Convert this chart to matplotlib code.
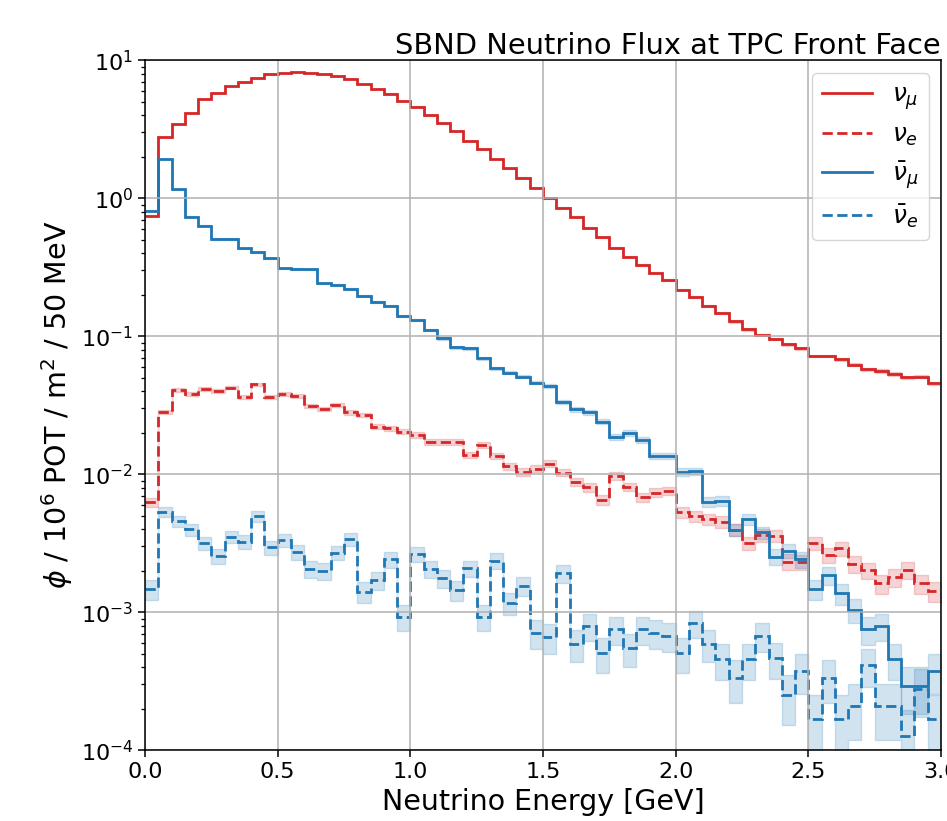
import numpy as np
import matplotlib
matplotlib.use("Agg")
import matplotlib.pyplot as plt

# 60 bins of 50 MeV from 0 to 3 GeV
bin_edges = np.linspace(0.0, 3.0, 61)

# flux per bin
numu = [0.75, 2.77, 3.45, 4.13, 5.25, 5.82, 6.51, 6.92, 7.48, 7.92,
        8.09, 8.23, 8.13, 7.96, 7.70, 7.28, 6.77, 6.19, 5.73, 5.09,
        4.61, 3.99, 3.49, 3.07, 2.60, 2.26, 1.92, 1.65, 1.41, 1.19,
        1.00, 0.855, 0.736, 0.612, 0.521, 0.438, 0.377, 0.329, 0.289, 0.256,
        0.218, 0.192, 0.166, 0.147, 0.128, 0.112, 0.102, 0.0955, 0.0874, 0.0818,
        0.072, 0.072, 0.068, 0.062, 0.0576, 0.0561, 0.0534, 0.0505, 0.051, 0.0456]
nue = [0.00627, 0.0284, 0.0408, 0.0382, 0.0413, 0.0402, 0.0425, 0.0365, 0.0449, 0.0365,
       0.0380, 0.0372, 0.0314, 0.0297, 0.0318, 0.0281, 0.0269, 0.0221, 0.0215, 0.0204,
       0.0193, 0.0171, 0.0171, 0.0171, 0.0138, 0.0163, 0.0136, 0.0114, 0.0104, 0.0110,
       0.0119, 0.0103, 0.00884, 0.00805, 0.00652, 0.00973, 0.00813, 0.00681, 0.00736, 0.00760,
       0.00531, 0.00499, 0.00472, 0.00454, 0.00395, 0.00319, 0.00363, 0.00360, 0.00233, 0.00232,
       0.00316, 0.00260, 0.00291, 0.00224, 0.00201, 0.00162, 0.00179, 0.00203, 0.00162, 0.00143]
numubar = [0.81, 1.92, 1.16, 0.736, 0.633, 0.507, 0.507, 0.434, 0.406, 0.367,
           0.311, 0.308, 0.305, 0.242, 0.235, 0.220, 0.196, 0.178, 0.167, 0.140,
           0.131, 0.111, 0.0966, 0.0832, 0.0818, 0.0693, 0.0587, 0.0545, 0.0510, 0.0461,
           0.0436, 0.0333, 0.0296, 0.0281, 0.0240, 0.0187, 0.0200, 0.0177, 0.0136, 0.0136,
           0.0104, 0.0105, 0.00632, 0.0064, 0.00394, 0.00472, 0.00380, 0.00253, 0.00280, 0.00242,
           0.00147, 0.00186, 0.00137, 0.00104, 0.000753, 0.000796, 0.000458, 0.000293, 0.000293, 0.000377]
nuebar = [0.00147, 0.00536, 0.00458, 0.00399, 0.00316, 0.00257, 0.00353, 0.00325, 0.00499, 0.00296,
          0.00334, 0.00272, 0.00205, 0.00200, 0.00270, 0.00338, 0.00141, 0.00171, 0.00242, 0.00093,
          0.00264, 0.00205, 0.00176, 0.00145, 0.00208, 0.00093, 0.00237, 0.00117, 0.00155, 0.000711,
          0.000665, 0.00192, 0.000586, 0.000796, 0.000505, 0.000753, 0.000548, 0.000753, 0.000711, 0.000676,
          0.000505, 0.000837, 0.000586, 0.000458, 0.000336, 0.000458, 0.000676, 0.000465, 0.000252, 0.000376,
          0.000168, 0.000336, 0.000168, 0.000209, 0.000415, 0.000209, 0.000209, 0.000126, 0.00028, 0.000168]

# relative stat. uncertainty per bin [%]
numu_err = [0.7, 0.4, 0.3, 0.3, 0.3, 0.3, 0.2, 0.2, 0.2, 0.2,
            0.2, 0.2, 0.2, 0.2, 0.2, 0.2, 0.2, 0.3, 0.3, 0.3,
            0.3, 0.3, 0.3, 0.4, 0.4, 0.4, 0.5, 0.5, 0.5, 0.6,
            0.6, 0.7, 0.7, 0.8, 0.9, 1.0, 1.0, 1.1, 1.2, 1.2,
            1.3, 1.4, 1.5, 1.6, 1.8, 1.9, 2.0, 2.0, 2.1, 2.2,
            2.3, 2.3, 2.4, 2.5, 2.6, 2.7, 2.7, 2.8, 2.8, 3.0]
nue_err = [8.0, 3.7, 3.1, 3.2, 3.1, 3.1, 3.1, 3.3, 3.0, 3.3,
           3.2, 3.3, 3.6, 3.7, 3.5, 3.8, 3.8, 4.2, 4.3, 4.4,
           4.5, 4.8, 4.8, 4.8, 5.4, 4.9, 5.4, 5.9, 6.2, 6.0,
           5.8, 6.2, 6.7, 7.0, 7.8, 6.4, 7.0, 7.6, 7.3, 7.2,
           8.6, 8.9, 9.2, 9.4, 10.0, 11.0, 10.5, 10.5, 13.0, 13.0,
           11.0, 12.4, 11.7, 13.3, 14.0, 15.7, 14.9, 14.0, 15.7, 16.7]
numubar_err = [0.7, 0.5, 0.6, 0.7, 0.8, 0.9, 0.9, 1.0, 1.0, 1.0,
               1.1, 1.1, 1.1, 1.3, 1.3, 1.3, 1.4, 1.5, 1.5, 1.7,
               1.7, 1.9, 2.0, 2.2, 2.2, 2.4, 2.6, 2.7, 2.8, 2.9,
               3.0, 3.5, 3.7, 3.8, 4.1, 4.6, 4.5, 4.7, 5.4, 5.4,
               6.2, 6.1, 7.9, 7.9, 10.0, 9.2, 10.0, 13.0, 12.0, 13.0,
               16.0, 15.0, 17.0, 20.0, 23.0, 22.0, 29.0, 37.0, 37.0, 32.0]
nuebar_err = [16.4, 8.6, 9.3, 10.0, 11.2, 12.4, 10.6, 11.0, 8.9, 11.6,
              10.9, 12.1, 13.9, 14.1, 12.1, 10.8, 16.8, 15.2, 12.8, 20.7,
              12.3, 13.9, 15.0, 16.5, 13.8, 20.7, 12.9, 18.4, 16.0, 23.6,
              24.4, 14.4, 26.0, 22.3, 28.0, 23.0, 26.9, 23.0, 23.6, 24.2,
              28.0, 21.8, 26.0, 29.4, 34.4, 29.4, 24.2, 29.2, 39.7, 32.5,
              48.6, 34.4, 48.6, 43.6, 30.9, 43.6, 43.6, 56.0, 37.6, 48.6]

labels = [r"$\nu_\mu$", r"$\nu_e$", r"$\bar{\nu}_\mu$", r"$\bar{\nu}_e$"]

RED = "#d62728"
BLUE = "#1f77b4"

fig = plt.figure(figsize=(9.47, 8.21), dpi=100)
ax = fig.add_axes([0.1531, 0.0861, 0.8406, 0.8405])

series = [
    (numu, numu_err, RED, "-", labels[0]),
    (nue, nue_err, RED, "--", labels[1]),
    (numubar, numubar_err, BLUE, "-", labels[2]),
    (nuebar, nuebar_err, BLUE, "--", labels[3]),
]

for vals, rel, color, ls, lab in series:
    v = np.array(vals)
    e = v * np.array(rel) / 100.0
    lo = np.append(v - e, (v - e)[-1])
    hi = np.append(v + e, (v + e)[-1])
    ax.fill_between(bin_edges, lo, hi, step="post", color=color, alpha=0.2, lw=1)
    # baseline=None -> no vertical drop to zero at the outer edges
    ax.stairs(v, bin_edges, baseline=None, color=color, linestyle=ls,
              linewidth=2.0, label=lab)

ax.set_yscale("log")
ax.set_xlim(0, 3.0)
ax.set_ylim(1e-4, 10)
ax.set_xticks([0.0, 0.5, 1.0, 1.5, 2.0, 2.5, 3.0])
ax.grid(True, which="major", color="#b0b0b0", linewidth=1.1)
ax.tick_params(axis="both", which="major", labelsize=16, length=5, width=1.1)
ax.tick_params(axis="y", which="minor", length=3, width=0.9)
for sp in ax.spines.values():
    sp.set_linewidth(1.1)

ax.set_xlabel("Neutrino Energy [GeV]", fontsize=20.5)
ax.set_ylabel(r"$\phi$ / $10^6$ POT / m$^2$ / 50 MeV", fontsize=20.5)
ax.set_title("SBND Neutrino Flux at TPC Front Face", loc="right", fontsize=20.8, pad=1)

ax.legend(loc="upper right", fontsize=18, labelspacing=0.45)

fig.savefig("out.png", dpi=100)
